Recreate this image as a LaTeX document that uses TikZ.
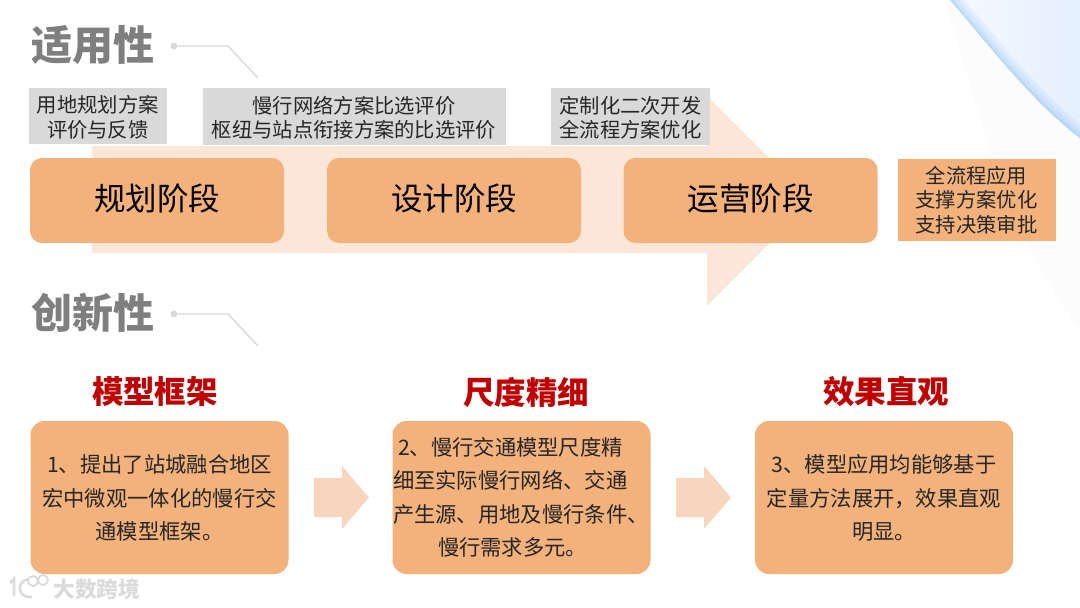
\documentclass[tikz,border=0pt]{standalone}
\usepackage{fontspec}
\setmainfont{Noto Sans CJK SC}
\usetikzlibrary{positioning}
\definecolor{peach}{RGB}{243,178,124}
\definecolor{paleorange}{RGB}{251,230,216}
\definecolor{midorange}{RGB}{248,214,190}
\definecolor{notegray}{RGB}{217,217,217}
\definecolor{titlegray}{RGB}{127,127,127}
\definecolor{headred}{RGB}{192,0,0}
\definecolor{skyblue}{RGB}{130,185,245}
\tikzset{
  stagebox/.style={fill=peach,rounded corners=12pt,minimum width=254pt,minimum height=85pt,inner sep=0pt,font=\fontsize{31.5}{36}\selectfont},
  notebox/.style={fill=notegray,inner sep=0pt,align=center,font=\fontsize{20.3}{24.6}\selectfont,text=black!85},
  bodybox/.style={fill=peach,rounded corners=14pt,minimum width=258pt,minimum height=153pt,inner sep=0pt,align=center,font=\fontsize{21.3}{33.5}\selectfont,text=black!85},
  headline/.style={font=\fontsize{31.5}{36}\selectfont\bfseries,text=headred},
  sidetitle/.style={font=\fontsize{41}{46}\selectfont\bfseries,text=titlegray},
  leader/.style={draw=notegray,line width=1.4pt},
  leaderdot/.style={circle,fill=notegray,minimum size=7pt,inner sep=0pt},
  smallarrow/.style={fill=midorange}
}
\begin{document}
\begin{tikzpicture}[x=1pt,y=-1pt]
  \useasboundingbox (0,0) rectangle (1080,608);
  % corner
  \fill[black!1] (945,0) .. controls (975,100) and (1010,240) .. (1080,330) -- (1080,0) -- cycle;
  \begin{scope}
    \clip (950,0) .. controls (985,40) and (1030,100) .. (1080,138) -- (1080,0) -- cycle;
    \shade[left color=skyblue!8,right color=skyblue!22] (950,0) rectangle (1080,140);
    \foreach \w in {2,4,8,14,22}{
      \draw[skyblue,opacity=0.13,line width=\w pt] (950,0) .. controls (985,40) and (1030,100) .. (1080,138);
    }
  \end{scope}
  % big arrow
  \fill[paleorange] (92,146) -- (707,146) -- (707,96) -- (812,201) -- (707,306) -- (707,253) -- (92,253) -- cycle;
  % top row
  \node[notebox,minimum width=138.5pt,minimum height=56.5pt] (noteplan) at (97.8,116) {\rule{0pt}{20pt}用地规划方案\\评价与反馈};
  \node[notebox,minimum width=303pt,minimum height=57pt] (notedesign) at (354,116.5) {\rule{0pt}{20pt}慢行网络方案比选评价\\枢纽与站点衔接方案的比选评价};
  \node[notebox,minimum width=159pt,minimum height=57pt] (noterun) at (630.5,116.5) {\rule{0pt}{20pt}定制化二次开发\\全流程方案优化};
  \foreach \nm/\x/\t in {plan/157/规划阶段,design/454/设计阶段,run/750.5/运营阶段}{
    \node[stagebox] (\nm) at (\x,200.5) {\raisebox{0pt}[25pt][5pt]{\t}};
  }
  \node[notebox,fill=peach,minimum width=158pt,minimum height=82pt] (noteall) at (976.5,200) {全流程应用\\支撑方案优化\\支持决策审批};
  % titles
  \node[sidetitle] (titlea) at (92.5,45) {适用性};
  \node[sidetitle] (titleb) at (92.5,313) {创新性};
  \foreach \nm/\y in {a/46,b/314}{
    \node[leaderdot] (dot\nm) at (174,\y) {};
    \coordinate (knee\nm) at (228,\y);
    \coordinate (end\nm) at (258,\y+32);
    \draw[leader] (dot\nm) -- (knee\nm) -- (end\nm);
  }
  % lower row
  \node[headline] (heada) at (155,392) {模型框架};
  \node[headline] (headb) at (526,392) {尺度精细};
  \node[headline] (headc) at (886,392) {效果直观};
  \node[bodybox] (boxa) at (159.5,497.5) {\rule{0pt}{19.5pt}1、提出了站城融合地区\\宏中微观一体化的慢行交\\通模型框架。};
  \node[bodybox,text width=258pt,align=left] (boxb) at (521.5,497.5) {\hspace*{5.5pt}2、慢行交通模型尺度精\\\hspace*{0.5pt}细至实际慢行网络、交通\\\hspace*{0.5pt}产生源、用地及慢行条件、\\\hspace*{45.5pt}慢行需求多元。};
  \node[bodybox] (boxc) at (884,497.5) {\rule{0pt}{19.5pt}3、模型应用均能够基于\\定量方法展开，效果直观\\明显。};
  \foreach \x in {314,676}{
    \fill[smallarrow] (\x,478) -- (\x+28,478) -- (\x+28,466) -- (\x+55,497.5) -- (\x+28,529) -- (\x+28,517) -- (\x,517) -- cycle;
  }
  % watermark
  \node[font=\fontsize{21.7}{24}\selectfont\bfseries,text=black!14] (mark) at (97,589) {大数跨境};
  \draw[black!14,line width=2.6pt] (10,583) -- (14,579) -- (14,596) (28,579) .. controls (16,582) and (17,598) .. (32,597);
  \node[circle,draw=black!14,line width=1.8pt,minimum size=10pt,inner sep=0pt] (ringa) at (33,581) {};
  \node[circle,draw=black!14,line width=1.8pt,minimum size=10pt,inner sep=0pt] (ringb) at (43,580) {};
\end{tikzpicture}
\end{document}
